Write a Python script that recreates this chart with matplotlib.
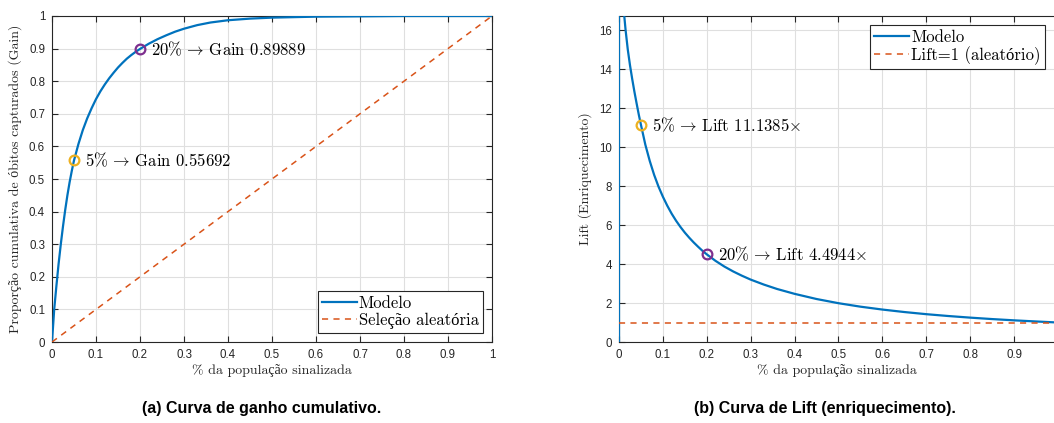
import matplotlib
matplotlib.use("Agg")
import matplotlib.pyplot as plt
import matplotlib.ticker as mticker

BLUE = "#0072BD"
ORANGE = "#D95319"
YELLOW = "#EDB120"
PURPLE = "#7E2F8E"
AXIS_DARK = "#262626"
GRID = "#dfdfdf"

# cumulative gain curve
gain_x = [0.0, 0.005, 0.01, 0.015, 0.02, 0.025, 0.03, 0.035, 0.04, 0.045, 0.05, 0.06, 0.07,
          0.08, 0.09, 0.10, 0.11, 0.12, 0.13, 0.14, 0.15, 0.16, 0.17, 0.18, 0.19, 0.20,
          0.22, 0.24, 0.26, 0.28, 0.30, 0.33, 0.36, 0.40, 0.45, 0.50, 0.60, 0.70, 0.80,
          0.90, 1.0]
gain_y = [0.0, 0.10, 0.172, 0.240, 0.300, 0.355, 0.405, 0.450, 0.490, 0.525, 0.55692, 0.607,
          0.650, 0.686, 0.717, 0.745, 0.769, 0.790, 0.809, 0.826, 0.842, 0.856, 0.869,
          0.880, 0.890, 0.89889, 0.915, 0.929, 0.941, 0.952, 0.961, 0.972, 0.980, 0.987,
          0.992, 0.995, 0.998, 0.999, 1.0, 1.0, 1.0]

# lift curve
lift_x = [0.0, 0.0, 0.005, 0.01, 0.015, 0.02, 0.025, 0.03, 0.035, 0.04, 0.045, 0.05, 0.06,
          0.07, 0.08, 0.09, 0.10, 0.11, 0.12, 0.13, 0.14, 0.15, 0.16, 0.17, 0.18, 0.19,
          0.20, 0.22, 0.24, 0.26, 0.28, 0.30, 0.33, 0.36, 0.40, 0.45, 0.50, 0.55, 0.60,
          0.65, 0.70, 0.75, 0.80, 0.85, 0.90, 0.95, 0.99]
lift_y = [0.0, 30.0, 19.5, 17.2, 16.0, 15.0, 14.2, 13.5, 12.85, 12.25, 11.67, 11.1385, 10.12,
          9.29, 8.575, 7.97, 7.45, 6.99, 6.58, 6.22, 5.90, 5.61, 5.35, 5.11, 4.89, 4.68,
          4.4944, 4.16, 3.87, 3.62, 3.40, 3.20, 2.945, 2.72, 2.47, 2.205, 1.99, 1.812,
          1.664, 1.537, 1.427, 1.333, 1.25, 1.176, 1.111, 1.053, 1.01]

random_x = [0.0, 1.0]
random_y = [0.0, 1.0]

mark_x = [0.05, 0.20]
mark_gain = [0.55692, 0.89889]
mark_lift = [11.1385, 4.4944]
mark_colors = [YELLOW, PURPLE]

plt.rcParams["mathtext.fontset"] = "cm"
plt.rcParams["axes.unicode_minus"] = False
SERIF = ["cmr10", "Liberation Serif", "DejaVu Serif"]
SANS = ["Liberation Sans", "DejaVu Sans"]
ARROW = r"$\,\rightarrow\,$"
TIMES = r"$\!\times$"


def style_axes(ax, right_spine=True):
    for side in ("left", "bottom", "top", "right"):
        ax.spines[side].set_color(AXIS_DARK)
        ax.spines[side].set_linewidth(0.8)
    ax.spines["right"].set_visible(right_spine)
    ax.tick_params(direction="in", length=4, width=0.8, colors=AXIS_DARK,
                   top=True, right=right_spine, labelsize=8.3, pad=5)
    for lab in ax.get_xticklabels() + ax.get_yticklabels():
        lab.set_fontfamily(SANS)
    ax.grid(True, color=GRID, linewidth=0.8)
    ax.set_axisbelow(True)


def fmt(v, _):
    return f"{v:.1f}".rstrip("0").rstrip(".")


def add_legend(ax, loc):
    leg = ax.legend(loc=loc, prop={"family": SERIF, "size": 12},
                    fancybox=False, framealpha=1, edgecolor=AXIS_DARK,
                    handlelength=2.1, handletextpad=0.1, borderpad=0.25,
                    labelspacing=0.1, borderaxespad=0.55)
    leg.get_frame().set_linewidth(0.8)
    return leg


def annotate(ax, x, y, text):
    ax.text(x + 0.025, y, text, fontfamily=SERIF, fontsize=12, va="center", ha="left")


fig = plt.figure(figsize=(10.54, 4.23), dpi=100)

# (a) gain
ax1 = fig.add_axes([52 / 1054, 81 / 423, 440 / 1054, 326 / 423])
ax1.plot(gain_x, gain_y, color=BLUE, lw=1.6, label="Modelo", zorder=3)
ax1.plot(random_x, random_y, color=ORANGE, lw=1.1, ls=(0, (4, 3.5)),
         label="Seleção aleatória", zorder=3)
for x, y, c in zip(mark_x, mark_gain, mark_colors):
    ax1.plot([x], [y], "o", mfc="none", mec=c, ms=7, mew=1.6, zorder=4)
annotate(ax1, mark_x[0], mark_gain[0], f"5%{ARROW}Gain 0.55692")
annotate(ax1, mark_x[1], mark_gain[1], f"20%{ARROW}Gain 0.89889")
ax1.set_xlim(0, 1)
ax1.set_ylim(0, 1)
ax1.xaxis.set_major_locator(mticker.MultipleLocator(0.1))
ax1.yaxis.set_major_locator(mticker.MultipleLocator(0.1))
ax1.xaxis.set_major_formatter(mticker.FuncFormatter(fmt))
ax1.yaxis.set_major_formatter(mticker.FuncFormatter(fmt))
style_axes(ax1)
ax1.set_xlabel("% da população sinalizada", fontfamily=SERIF, fontsize=10,
               color=AXIS_DARK, labelpad=2)
ax1.set_ylabel("Proporção cumulativa de óbitos capturados (Gain)", fontfamily=SERIF,
               fontsize=10, color=AXIS_DARK, labelpad=5)
add_legend(ax1, "lower right")

# (b) lift
ax2 = fig.add_axes([619 / 1054, 81 / 423, 435 / 1054, 326 / 423])
ax2.plot(lift_x, lift_y, color=BLUE, lw=1.6, label="Modelo", zorder=3)
ax2.axhline(1.0, color=ORANGE, lw=1.1, ls=(0, (4, 3.5)),
            label="Lift=1 (aleatório)", zorder=3)
for x, y, c in zip(mark_x, mark_lift, mark_colors):
    ax2.plot([x], [y], "o", mfc="none", mec=c, ms=7, mew=1.6, zorder=4)
annotate(ax2, mark_x[0], mark_lift[0], f"5%{ARROW}Lift 11.1385{TIMES}")
annotate(ax2, mark_x[1], mark_lift[1], f"20%{ARROW}Lift 4.4944{TIMES}")
ax2.set_xlim(0, 0.991)
ax2.set_ylim(0, 16.72)
ax2.xaxis.set_major_locator(mticker.MultipleLocator(0.1))
ax2.yaxis.set_major_locator(mticker.MultipleLocator(2))
ax2.xaxis.set_major_formatter(mticker.FuncFormatter(fmt))
ax2.yaxis.set_major_formatter(mticker.FuncFormatter(fmt))
style_axes(ax2, right_spine=False)
ax2.set_xlabel("% da população sinalizada", fontfamily=SERIF, fontsize=10,
               color=AXIS_DARK, labelpad=2)
ax2.set_ylabel("Lift (Enriquecimento)", fontfamily=SERIF, fontsize=10,
               color=AXIS_DARK, labelpad=5)
add_legend(ax2, "upper right")

fig.text(262 / 1054, 1 - 408 / 423, "(a) Curva de ganho cumulativo.",
         fontfamily=SANS, fontweight="bold", fontsize=11.5, ha="center", va="center")
fig.text(825 / 1054, 1 - 408 / 423, "(b) Curva de Lift (enriquecimento).",
         fontfamily=SANS, fontweight="bold", fontsize=11.5, ha="center", va="center")

fig.savefig("out.png", dpi=100)
